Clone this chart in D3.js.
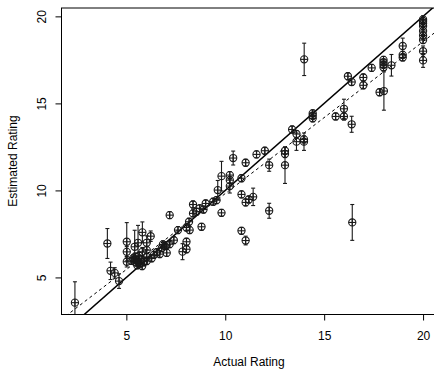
<!DOCTYPE html>
<html>
<head>
<meta charset="utf-8">
<script src="https://cdnjs.cloudflare.com/ajax/libs/d3/7.8.5/d3.min.js"></script>
<style>
body { margin: 0; background: #fff; }
svg text { font-family: "Liberation Sans", Arial, sans-serif; font-size: 12px; fill: #000; }
</style>
</head>
<body>
<svg id="chart" width="434" height="369"></svg>
<script>
// ratings (actual vs estimated), with half-length of each error bar
var actualRating = [
  2.40, 4.04, 4.20, 4.41, 4.63, 5.02, 5.02, 5.02, 5.42, 5.59,
  5.81, 6.23, 5.81, 6.03, 6.03, 6.03, 6.03, 5.35, 5.50, 5.60,
  5.70, 5.55, 5.45, 5.75, 5.80, 5.65, 5.50, 5.90, 5.25, 6.54,
  6.79, 6.94, 7.19, 7.04, 6.69, 6.28, 6.40, 6.85, 7.03,
  7.19, 8.80, 9.81, 10.82, 11.03, 10.82, 11.03, 11.19, 11.41, 11.58,
  10.40, 11.03, 10.82, 9.81, 10.23, 10.23, 10.23, 9.62, 8.37, 9.01,
  8.71, 8.54, 8.37, 8.17, 8.20, 8.04, 7.61, 7.40, 8.04, 8.04,
  7.84, 9.39, 9.56, 8.90,
  12.00, 12.22, 13.02, 13.02, 13.02, 13.38, 13.60, 13.60, 13.98, 13.98,
  14.42, 14.42, 14.42, 15.58, 13.99, 16.00, 16.00, 16.39, 16.20, 16.39,
  16.98, 16.98, 17.40, 17.80, 18.02, 18.00, 18.00, 18.00, 18.00, 18.40,
  18.97, 18.97, 18.97,
  20.00, 20.00, 20.00, 20.00, 20.00, 20.00, 20.00, 20.00, 20.00,
  16.42, 12.22
];
var estimatedRating = [
  3.55, 6.95, 5.38, 5.26, 4.79, 7.05, 6.47, 5.90, 6.76, 6.99,
  7.59, 7.37, 6.47, 6.99, 6.57, 6.18, 5.94, 6.10, 6.00, 5.90,
  5.80, 5.70, 6.20, 6.05, 5.65, 6.25, 5.85, 5.90, 5.95, 6.45,
  6.68, 6.80, 6.91, 6.41, 6.34, 6.10, 6.30, 6.90, 6.86,
  8.58, 7.91, 8.71, 7.68, 7.12, 9.77, 9.31, 9.48, 9.63, 12.07,
  11.86, 11.59, 10.70, 10.82, 10.88, 10.59, 10.25, 10.02, 9.19, 9.25,
  8.97, 8.77, 8.68, 8.20, 7.72, 7.87, 7.72, 7.14, 7.05, 6.62,
  6.48, 9.35, 9.44, 8.90,
  12.28, 11.45, 12.28, 12.09, 11.45, 13.50, 13.24, 12.80, 12.93, 12.80,
  14.43, 14.29, 14.14, 14.25, 17.53, 14.69, 14.25, 13.80, 16.56, 16.23,
  16.49, 16.04, 17.04, 15.64, 15.71, 17.50, 17.36, 17.22, 17.07, 17.19,
  18.30, 17.79, 17.64,
  19.83, 19.73, 19.60, 19.44, 19.16, 18.90, 18.64, 18.00, 17.47,
  8.16, 8.83
];
var errorHalf = [
  1.20, 0.86, 0.50, 0.30, 0.42, 1.10, 0.30, 0.30, 0.95, 1.00,
  0.60, 0.30, 0.25, 0.40, 0.20, 0.20, 0.20, 0.20, 0.20, 0.20,
  0.20, 0.20, 0.20, 0.20, 0.20, 0.20, 0.20, 0.20, 0.20, 0.20,
  0.20, 0.20, 0.20, 0.20, 0.20, 0.20, 0.20, 0.20, 0.20,
  0.20, 0.20, 0.20, 0.20, 0.25, 0.20, 0.20, 0.20, 0.50, 0.20,
  0.40, 0.20, 0.20, 0.85, 0.20, 0.20, 0.40, 0.55, 0.20, 0.20,
  0.20, 0.20, 0.20, 0.20, 0.20, 0.20, 0.20, 0.20, 0.20, 0.20,
  0.46, 0.20, 0.20, 0.20,
  0.20, 0.35, 0.20, 0.20, 1.05, 0.20, 0.20, 0.50, 0.20, 0.50,
  0.20, 0.20, 0.20, 0.20, 0.93, 0.55, 0.20, 0.46, 0.20, 0.20,
  0.20, 0.20, 0.20, 0.20, 1.10, 0.20, 0.20, 0.20, 0.20, 0.62,
  0.45, 0.20, 0.20,
  0.20, 0.20, 0.20, 0.20, 0.20, 0.20, 0.20, 0.30, 0.40,
  1.03, 0.43
];
var xTicks = [5, 10, 15, 20];
var yTicks = [5, 10, 15, 20];
var fitIntercept = 1.09;
var fitSlope = 0.873;
var xTitle = "Actual Rating";
var yTitle = "Estimated Rating";

var svg = d3.select("#chart");
var plotLeft = 61, plotRight = 437, plotTop = 8, plotBottom = 314;

// R style range: data extent stretched by 4% each side
var pad = function (ext) {
  var d = (ext[1] - ext[0]) * 0.04;
  return [ext[0] - d, ext[1] + d];
};

var x = d3.scaleLinear().domain(pad(d3.extent(actualRating))).range([plotLeft, plotRight]);
var y = d3.scaleLinear().domain(pad(d3.extent(estimatedRating))).range([plotBottom, plotTop]);

var points = actualRating.map(function (a, i) {
  return {a: a, e: estimatedRating[i], h: errorHalf[i]};
});

svg.append("clipPath").attr("id", "clip").append("rect")
  .attr("x", plotLeft).attr("y", plotTop)
  .attr("width", plotRight - plotLeft).attr("height", plotBottom - plotTop);

var plot = svg.append("g").attr("clip-path", "url(#clip)");

var xd = x.domain();
var line = d3.line().x(function (d) { return x(d[0]); }).y(function (d) { return y(d[1]); });

// identity line
plot.append("path")
  .attr("d", line([[xd[0], xd[0]], [xd[1], xd[1]]]))
  .attr("stroke", "#000").attr("stroke-width", 1.5).attr("fill", "none");

// fitted line
plot.append("path")
  .attr("d", line([[xd[0], fitIntercept + fitSlope * xd[0]], [xd[1], fitIntercept + fitSlope * xd[1]]]))
  .attr("stroke", "#000").attr("stroke-width", 1).attr("stroke-dasharray", "3,3").attr("fill", "none");

var cell = plot.selectAll("g.pt")
  .data(points)
  .enter().append("g")
  .attr("class", "pt")
  .attr("stroke", "#1a1a1a")
  .attr("stroke-width", 1.1)
  .attr("fill", "none");

cell.append("line")
  .attr("x1", function (d) { return x(d.a); })
  .attr("x2", function (d) { return x(d.a); })
  .attr("y1", function (d) { return y(d.e - d.h); })
  .attr("y2", function (d) { return y(d.e + d.h); });

cell.append("line")
  .attr("x1", function (d) { return x(d.a) - 2; })
  .attr("x2", function (d) { return x(d.a) + 2; })
  .attr("y1", function (d) { return y(d.e - d.h); })
  .attr("y2", function (d) { return y(d.e - d.h); });

cell.append("line")
  .attr("x1", function (d) { return x(d.a) - 2; })
  .attr("x2", function (d) { return x(d.a) + 2; })
  .attr("y1", function (d) { return y(d.e + d.h); })
  .attr("y2", function (d) { return y(d.e + d.h); });

var R = 3.6;
cell.append("circle")
  .attr("cx", function (d) { return x(d.a); })
  .attr("cy", function (d) { return y(d.e); })
  .attr("r", R);

cell.append("line")
  .attr("x1", function (d) { return x(d.a) - R; })
  .attr("x2", function (d) { return x(d.a) + R; })
  .attr("y1", function (d) { return y(d.e); })
  .attr("y2", function (d) { return y(d.e); });

cell.append("line")
  .attr("x1", function (d) { return x(d.a); })
  .attr("x2", function (d) { return x(d.a); })
  .attr("y1", function (d) { return y(d.e) - R; })
  .attr("y2", function (d) { return y(d.e) + R; });

// box
svg.append("line").attr("x1", plotLeft + 0.5).attr("x2", plotLeft + 0.5)
  .attr("y1", plotTop).attr("y2", plotBottom + 0.5).attr("stroke", "#000");
svg.append("line").attr("x1", plotLeft).attr("x2", 434)
  .attr("y1", plotBottom + 0.5).attr("y2", plotBottom + 0.5).attr("stroke", "#000");
svg.append("line").attr("x1", plotLeft).attr("x2", 434)
  .attr("y1", plotTop).attr("y2", plotTop).attr("stroke", "#000");

// axes
var xAxis = svg.append("g")
  .attr("transform", "translate(0," + (plotBottom + 0.5) + ")")
  .call(d3.axisBottom(x).tickValues(xTicks).tickSize(6).tickSizeOuter(0).tickFormat(d3.format("d")));
xAxis.select(".domain").remove();
xAxis.attr("font-size", null).attr("font-family", null);
xAxis.selectAll("text").attr("y", 25).attr("dy", 0);

var yAxis = svg.append("g")
  .attr("transform", "translate(" + (plotLeft + 0.5) + ",0)")
  .call(d3.axisLeft(y).tickValues(yTicks).tickSize(6).tickSizeOuter(0).tickFormat(d3.format("d")));
yAxis.select(".domain").remove();
yAxis.attr("font-size", null).attr("font-family", null);
yAxis.selectAll("text")
  .attr("transform", "rotate(-90)")
  .attr("x", 0).attr("y", -15.5).attr("dy", 0)
  .attr("text-anchor", "middle");

svg.append("text")
  .attr("x", (plotLeft + plotRight) / 2)
  .attr("y", 366)
  .attr("text-anchor", "middle")
  .text(xTitle);

svg.append("text")
  .attr("transform", "translate(17," + ((plotTop + plotBottom) / 2) + ") rotate(-90)")
  .attr("text-anchor", "middle")
  .text(yTitle);
</script>
</body>
</html>
